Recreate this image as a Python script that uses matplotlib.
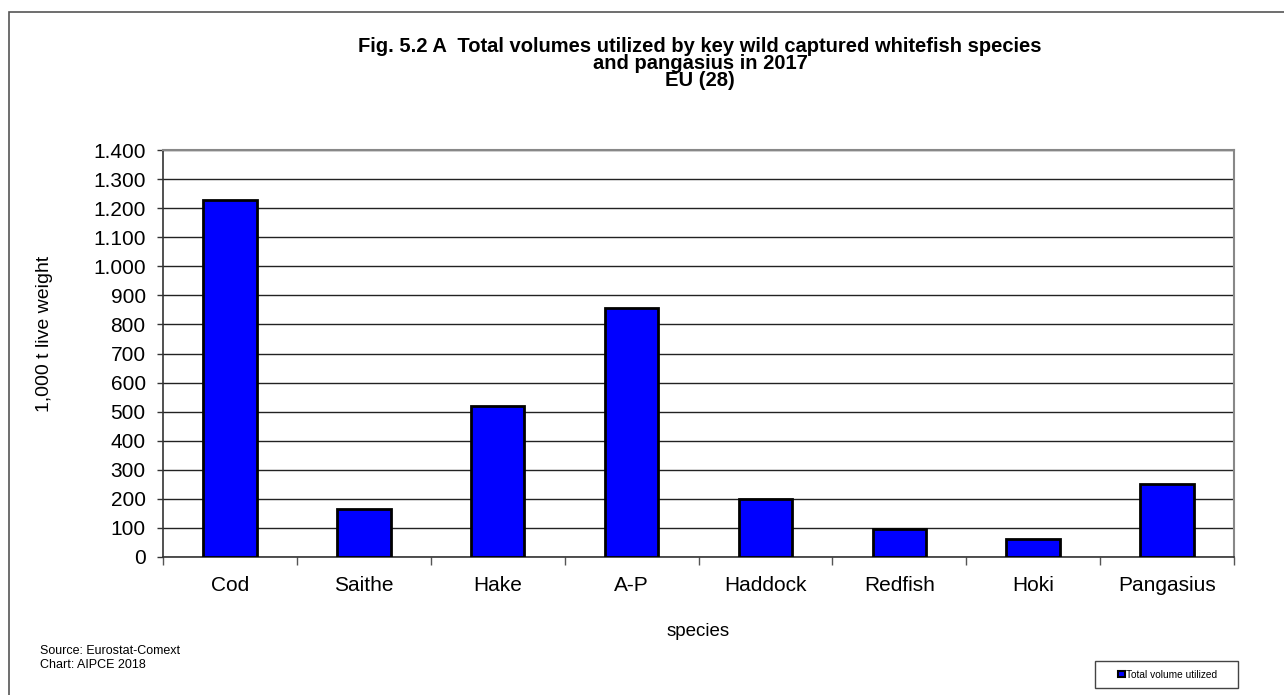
import matplotlib
matplotlib.use("Agg")
import matplotlib.pyplot as plt
from matplotlib.patches import Rectangle, Patch

plt.rcParams['font.family'] = ['Liberation Sans', 'DejaVu Sans']

species = ["Cod", "Saithe", "Hake", "A-P", "Haddock", "Redfish", "Hoki", "Pangasius"]
volume = [1228, 165, 519, 857, 198, 96, 61, 251]
yticks = list(range(0, 1401, 100))
ytick_labels = ["0"] + [f"{v:,}".replace(",", ".") for v in yticks[1:]]
title = ("Fig. 5.2 A  Total volumes utilized by key wild captured whitefish species\n"
         "and pangasius in 2017\n"
         "EU (28)")

W, H = 1284, 695
fig = plt.figure(figsize=(W / 100, H / 100), dpi=100)


def fx(px):
    return px / W


def fy(py):
    return 1 - py / H


# outer chart frame
fig.patches.append(Rectangle((fx(9), -0.05), 1.2, fy(12) + 0.05,
                             transform=fig.transFigure, fill=False,
                             edgecolor="#555555", linewidth=1.2))

ax = fig.add_axes([fx(163), fy(557), (1234 - 163) / W, (557 - 150) / H])
x = list(range(len(species)))
ax.bar(x, volume, width=0.40, color="#0000ff", edgecolor="black", linewidth=2, zorder=3)

ax.set_xlim(-0.5, len(species) - 0.5)
ax.set_ylim(0, 1400)
ax.set_yticks(yticks)
ax.set_yticklabels(ytick_labels, fontsize=15)
ax.set_xticks(x)
ax.set_xticklabels(species, fontsize=15)
ax.tick_params(axis="x", length=0, pad=14)
ax.tick_params(axis="y", length=4.5, width=1, color="#333333", pad=8)
ax.set_xticks([i - 0.5 for i in range(len(species) + 1)], minor=True)
ax.tick_params(axis="x", which="minor", length=5.5, width=1, color="#555555")

ax.yaxis.grid(True, color="#222222", linewidth=1.0, zorder=0)
for s in ["left", "bottom"]:
    ax.spines[s].set_color("#333333")
    ax.spines[s].set_linewidth(1.2)
for s in ["right", "top"]:
    ax.spines[s].set_color("#888888")
    ax.spines[s].set_linewidth(1.5)

fig.text(fx(700), fy(86.5), title, ha="center", va="baseline",
         multialignment="center", fontsize=14.5, fontweight="bold",
         linespacing=0.88)

fig.text(fx(45), fy(334), "1,000 t live weight", rotation=90,
         ha="center", va="center", fontsize=14)
fig.text(fx(698), fy(632), "species", ha="center", va="center", fontsize=13.5)

fig.text(fx(40), fy(658), "Source: Eurostat-Comext\nChart: AIPCE 2018",
         ha="left", va="center", fontsize=9, linespacing=1.15)

# legend box
fig.patches.append(Rectangle((fx(1095), fy(688)), (1238 - 1095) / W, 27 / H,
                             transform=fig.transFigure, fill=False,
                             edgecolor="#444444", linewidth=1.0))
fig.legend(handles=[Patch(facecolor="#0000ff", edgecolor="black", linewidth=1.5,
                          label="Total volume utilized")],
           loc="center", bbox_to_anchor=(fx(1168), fy(674.5)),
           fontsize=7.3, frameon=False, handlelength=0.65,
           handleheight=0.65, handletextpad=0.15, borderpad=0, borderaxespad=0)

fig.savefig("out.png", dpi=100)
